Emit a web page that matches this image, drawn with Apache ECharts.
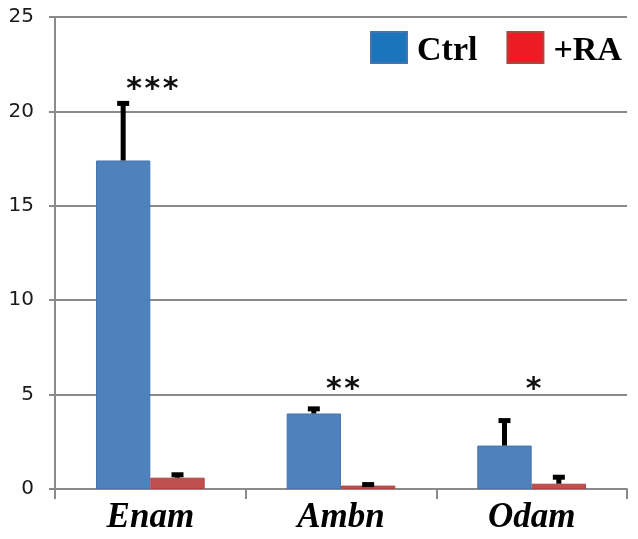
<!DOCTYPE html>
<html>
<head>
<meta charset="utf-8">
<script src="https://cdn.jsdelivr.net/npm/echarts@6/dist/echarts.min.js"></script>
<style>html,body{margin:0;padding:0;background:#fff;}#c{width:638px;height:539px;}</style>
</head>
<body>
<div id="c"></div>
<script>
const categories = ['Enam', 'Ambn', 'Odam'];
const ctrlValues = [17.4, 4.0, 2.3];
const ctrlErrors = [3.05, 0.27, 1.35];
const raValues = [0.6, 0.18, 0.28];
const raErrors = [0.18, 0.08, 0.37];
const sigMarks = ['***', '**', '*'];
const sigLevel = [21.5, 5.6, 5.6];
const yTicks = [0, 5, 10, 15, 20, 25];

const GAP = 0.43;
const chart = echarts.init(document.getElementById('c'), null, {renderer: 'canvas'});

function errRender(side) {
  return function (params, api) {
    const cat = api.value(0), val = api.value(1), err = api.value(2);
    const band = api.size([1, 0])[0];
    const bw = band * (1 - GAP) / 2;
    const off = side * bw / 2;
    const p0 = api.coord([cat, val]);
    const p1 = api.coord([cat, val + err]);
    const x = p0[0] + off;
    return {
      type: 'group',
      children: [
        {type: 'rect', shape: {x: x - 2.5, y: p1[1], width: 5, height: p0[1] - p1[1]}, style: {fill: '#000'}},
        {type: 'rect', shape: {x: x - 6, y: p1[1] - 2, width: 12, height: 5}, style: {fill: '#000'}}
      ]
    };
  };
}

chart.setOption({
  animation: false,
  backgroundColor: '#fff',
  grid: {left: 55, right: 11, top: 17, bottom: 50},
  legend: {
    left: 370, top: 31, padding: 0,
    itemWidth: 36, itemHeight: 31, itemGap: 29,
    icon: 'rect',
    formatter: '{n|{name}}',
    textStyle: {
      fontFamily: 'Liberation Serif', fontWeight: 'bold', fontSize: 34, color: '#000', padding: [0, 0, 0, 5],
      rich: {n: {fontFamily: 'Liberation Serif', fontWeight: 'bold', fontSize: 34, color: '#000', padding: [8, 0, 0, 0]}}
    },
    data: [
      {name: 'Ctrl', itemStyle: {color: '#1b75bc'}},
      {name: '+RA', itemStyle: {color: '#ed1c24'}}
    ]
  },
  xAxis: {
    type: 'category',
    data: categories,
    axisLine: {lineStyle: {color: '#8a8a8a', width: 2}},
    axisTick: {show: true, length: 10, lineStyle: {color: '#8a8a8a', width: 2}},
    axisLabel: {fontFamily: 'Liberation Serif', fontStyle: 'italic', fontWeight: 'bold', fontSize: 35, color: '#000', margin: 11}
  },
  yAxis: {
    type: 'value',
    min: yTicks[0], max: yTicks[yTicks.length - 1], interval: 5,
    axisLine: {show: true, lineStyle: {color: '#8a8a8a', width: 2}},
    axisTick: {show: true, length: 6, lineStyle: {color: '#8a8a8a', width: 2}},
    splitLine: {lineStyle: {color: '#8a8a8a', width: 2}},
    axisLabel: {fontFamily: 'DejaVu Sans', fontSize: 20, color: '#1a1a1a', margin: 21}
  },
  series: [
    {name: 'Ctrl', type: 'bar', data: ctrlValues, barGap: '0%', barCategoryGap: (GAP * 100) + '%',
     itemStyle: {color: '#4f81bd', borderColor: '#4475b2', borderWidth: 1}},
    {name: '+RA', type: 'bar', data: raValues,
     itemStyle: {color: '#c0504d', borderColor: '#b04440', borderWidth: 1}},
    {type: 'custom', renderItem: errRender(-1), z: 5,
     data: ctrlValues.map((v, i) => [i, v, ctrlErrors[i]])},
    {type: 'custom', renderItem: errRender(1), z: 5,
     data: raValues.map((v, i) => [i, v, raErrors[i]])},
    {type: 'custom', z: 6,
     renderItem: function (params, api) {
       const p = api.coord([api.value(0), api.value(1)]);
       const chars = sigMarks[params.dataIndex].split('');
       const step = 18.3;
       return {type: 'group', children: chars.map((ch, k) => ({
         type: 'text', x: p[0] + 2 + (k - (chars.length - 1) / 2) * step, y: p[1] + 7,
         style: {text: ch, fill: '#111', font: 'bold 30px "DejaVu Sans"', align: 'center', verticalAlign: 'middle'}
       }))};
     },
     data: sigLevel.map((v, i) => [i, v])}
  ]
});
</script>
</body>
</html>
